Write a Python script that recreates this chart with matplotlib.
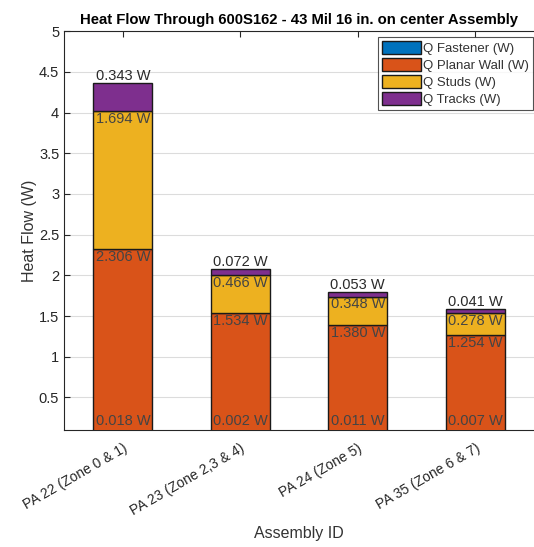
import numpy as np
import matplotlib
matplotlib.use("Agg")
import matplotlib.pyplot as plt

plt.rcParams['font.family'] = ['Liberation Sans', 'DejaVu Sans']

# Data
assemblies = ["PA 22 (Zone 0 & 1)", "PA 23 (Zone 2,3 & 4)", "PA 24 (Zone 5)", "PA 35 (Zone 6 & 7)"]
q_fastener = [0.018, 0.002, 0.011, 0.007]
q_planar = [2.306, 1.534, 1.380, 1.254]
q_studs = [1.694, 0.466, 0.348, 0.278]
q_tracks = [0.343, 0.072, 0.053, 0.041]
series_names = ["Q Fastener (W)", "Q Planar Wall (W)", "Q Studs (W)", "Q Tracks (W)"]
colors = ["#0072BD", "#D95319", "#EDB120", "#7E2F8E"]

fig = plt.figure(figsize=(5.34, 5.47), dpi=100)
ax = fig.add_axes([0.12, 0.214, 0.88, 0.729])

x = np.arange(1, len(assemblies) + 1)
series = [q_fastener, q_planar, q_studs, q_tracks]
bottom = np.zeros(len(x))
tops = []
for vals, name, c in zip(series, series_names, colors):
    vals = np.array(vals)
    ax.bar(x, vals, width=0.5, bottom=bottom, color=c, edgecolor="#1a1a1a",
           linewidth=1.0, label=name, zorder=3)
    bottom = bottom + vals
    tops.append(bottom.copy())

ymin, ymax = 0.1, 5
ax.set_xlim(0.5, 4.5)
ax.set_ylim(ymin, ymax)

txt_color = "#444444"
fs = 10.5
for i in range(len(x)):
    # fastener label near the bottom of the axis
    ax.text(x[i], ymin + 0.02, f"{q_fastener[i]:.3f} W", ha="center", va="bottom",
            fontsize=fs, color=txt_color, zorder=4)
    ax.text(x[i], tops[1][i] - 0.01, f"{q_planar[i]:.3f} W", ha="center", va="top",
            fontsize=fs, color=txt_color, zorder=4)
    ax.text(x[i], tops[2][i] - 0.01, f"{q_studs[i]:.3f} W", ha="center", va="top",
            fontsize=fs, color=txt_color, zorder=4)
    ax.text(x[i], tops[3][i], f"{q_tracks[i]:.3f} W", ha="center", va="bottom",
            fontsize=fs, color="#2a2a2a", zorder=4)

ax.set_yticks(np.arange(0.5, 5.01, 0.5))
ax.set_yticklabels([f"{v:g}" for v in np.arange(0.5, 5.01, 0.5)])
ax.set_xticks(x)
ax.set_xticklabels(assemblies, rotation=30, ha="right", rotation_mode="anchor")
ax.tick_params(axis="both", direction="in", labelsize=10.5, colors="#262626",
               top=True, length=4, width=0.8)
ax.tick_params(axis="x", pad=8, labelsize=10)
ax.grid(axis="y", color="#dcdcdc", linewidth=0.8, zorder=0)
ax.set_axisbelow(True)
for s in ["left", "bottom", "top"]:
    ax.spines[s].set_color("#262626")
    ax.spines[s].set_linewidth(0.8)
ax.spines["right"].set_visible(False)

ax.set_title("Heat Flow Through 600S162 - 43 Mil 16 in. on center Assembly",
             fontsize=10.7, fontweight="bold", pad=5)
ax.set_ylabel("Heat Flow (W)", fontsize=11.5, color="#333333", labelpad=1)
ax.set_xlabel("Assembly ID", fontsize=11.5, color="#333333", labelpad=6)

leg = ax.legend(loc="upper right", bbox_to_anchor=(0.997, 0.985), fontsize=9.5,
                frameon=True, fancybox=False, handlelength=3.0, handleheight=1.1,
                handletextpad=0.1, borderpad=0.3, labelspacing=0.25, borderaxespad=0)
leg.get_frame().set_edgecolor("#262626")
leg.get_frame().set_linewidth(0.8)
for t in leg.get_texts():
    t.set_color("#333333")

fig.savefig("out.png", dpi=100)
